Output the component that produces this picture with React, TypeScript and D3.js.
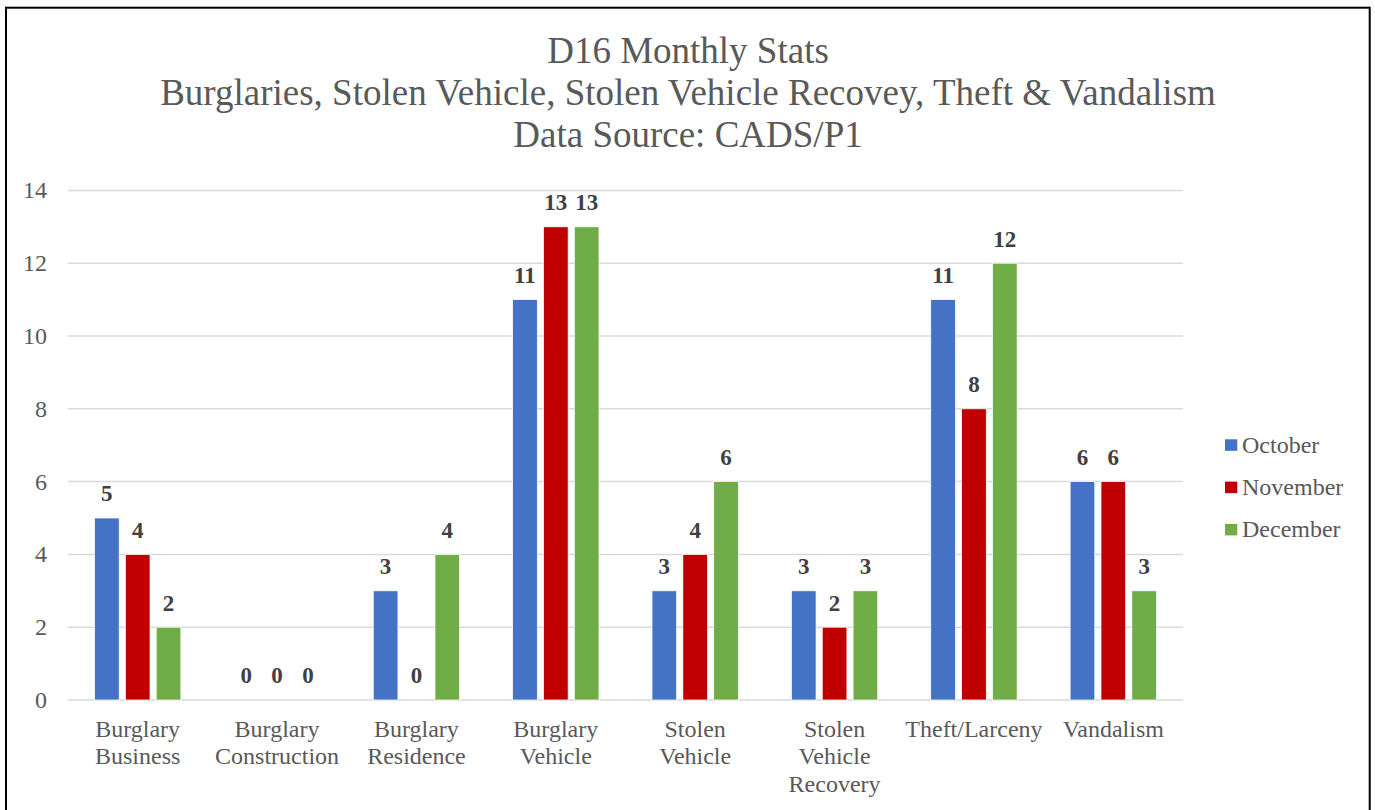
import React, { useEffect, useRef } from 'react';
import * as d3 from 'd3';

const categories = [
  ['Burglary', 'Business'],
  ['Burglary', 'Construction'],
  ['Burglary', 'Residence'],
  ['Burglary', 'Vehicle'],
  ['Stolen', 'Vehicle'],
  ['Stolen', 'Vehicle', 'Recovery'],
  ['Theft/Larceny'],
  ['Vandalism'],
];
const months = ['October', 'November', 'December'];
const october = [5, 0, 3, 11, 3, 3, 11, 6];
const november = [4, 0, 0, 13, 4, 2, 8, 6];
const december = [2, 0, 4, 13, 6, 3, 12, 3];
const colors = ['#4472c4', '#c00000', '#70ad47'];
const yTicks = [0, 2, 4, 6, 8, 10, 12, 14];
const titleLines = [
  'D16 Monthly Stats',
  'Burglaries, Stolen Vehicle, Stolen Vehicle Recovey, Theft & Vandalism',
  'Data Source: CADS/P1',
];

const W = 1375;
const H = 810;
const FONT = '"Liberation Serif", "Times New Roman", serif';

const App: React.FC = () => {
  const svgRef = useRef<SVGSVGElement>(null);

  useEffect(() => {
    if (!svgRef.current) return;
    const svg = d3.select(svgRef.current);
    svg.selectAll('*').remove();

    const series = [october, november, december];
    const plot = { left: 68, right: 1183, top: 190.4, bottom: 700 };

    svg.append('rect')
      .attr('width', W).attr('height', H).attr('fill', '#fff');

    // outer border
    svg.append('rect')
      .attr('x', 6).attr('y', 7.7)
      .attr('width', 1363.7).attr('height', 900)
      .attr('fill', 'none').attr('stroke', '#000').attr('stroke-width', 2);

    // titles
    svg.selectAll('.title')
      .data(titleLines)
      .enter()
      .append('text')
      .attr('x', 688)
      .attr('y', (d, i) => 63 + i * 42.2)
      .attr('text-anchor', 'middle')
      .attr('fill', '#595959')
      .style('font-family', FONT)
      .style('font-size', '37px')
      .text(d => d);

    const x0 = d3.scaleBand<number>()
      .domain(d3.range(categories.length))
      .range([plot.left, plot.right]);

    const x1 = d3.scaleBand<number>()
      .domain(d3.range(months.length))
      .range([26.5, x0.bandwidth() - 26.5])
      .paddingInner(0.2);

    const y = d3.scaleLinear()
      .domain([0, 14])
      .range([plot.bottom, plot.top]);

    // gridlines
    svg.append('g')
      .selectAll('line')
      .data(yTicks)
      .enter()
      .append('line')
      .attr('x1', plot.left).attr('x2', plot.right)
      .attr('y1', d => y(d)).attr('y2', d => y(d))
      .attr('stroke', '#d9d9d9').attr('stroke-width', 1.5);

    // y tick labels
    svg.append('g')
      .selectAll('text')
      .data(yTicks)
      .enter()
      .append('text')
      .attr('x', 47)
      .attr('y', d => y(d) + 8)
      .attr('text-anchor', 'end')
      .attr('fill', '#595959')
      .style('font-family', FONT)
      .style('font-size', '24px')
      .text(d => d);

    // bars + labels
    series.forEach((vals, si) => {
      const g = svg.append('g');
      g.selectAll('rect')
        .data(vals)
        .enter()
        .append('rect')
        .attr('x', (d, i) => (x0(i) || 0) + (x1(si) || 0))
        .attr('y', d => y(d))
        .attr('width', x1.bandwidth())
        .attr('height', d => y(0) - y(d))
        .attr('fill', colors[si])
        .attr('stroke', '#fff')
        .attr('stroke-width', 0.75);

      g.selectAll('text')
        .data(vals)
        .enter()
        .append('text')
        .attr('x', (d, i) => (x0(i) || 0) + (x1(si) || 0) + x1.bandwidth() / 2)
        .attr('y', d => y(d) - 16.7)
        .attr('text-anchor', 'middle')
        .attr('fill', '#404040')
        .style('font-family', FONT)
        .style('font-size', '23px')
        .style('font-weight', 'bold')
        .text(d => d);
    });

    // category labels
    categories.forEach((lines, i) => {
      const t = svg.append('text')
        .attr('text-anchor', 'middle')
        .attr('fill', '#595959')
        .style('font-family', FONT)
        .style('font-size', '24px');
      lines.forEach((line, li) => {
        t.append('tspan')
          .attr('x', (x0(i) || 0) + x0.bandwidth() / 2)
          .attr('y', 736.7 + li * 27.7)
          .text(line);
      });
    });

    // legend
    const legend = svg.append('g');
    months.forEach((m, i) => {
      legend.append('rect')
        .attr('x', 1225).attr('y', 439.3 + i * 42.3)
        .attr('width', 12.3).attr('height', 11.5)
        .attr('fill', colors[i]);
      legend.append('text')
        .attr('x', 1242).attr('y', 452.7 + i * 42.3)
        .attr('fill', '#595959')
        .style('font-family', FONT)
        .style('font-size', '24px')
        .text(m);
    });
  }, []);

  return (
    <div style={{ position: 'absolute', left: 0, top: 0 }}>
      <svg ref={svgRef} width={W} height={H} viewBox={`0 0 ${W} ${H}`} style={{ display: 'block' }} />
    </div>
  );
};

export default App;
